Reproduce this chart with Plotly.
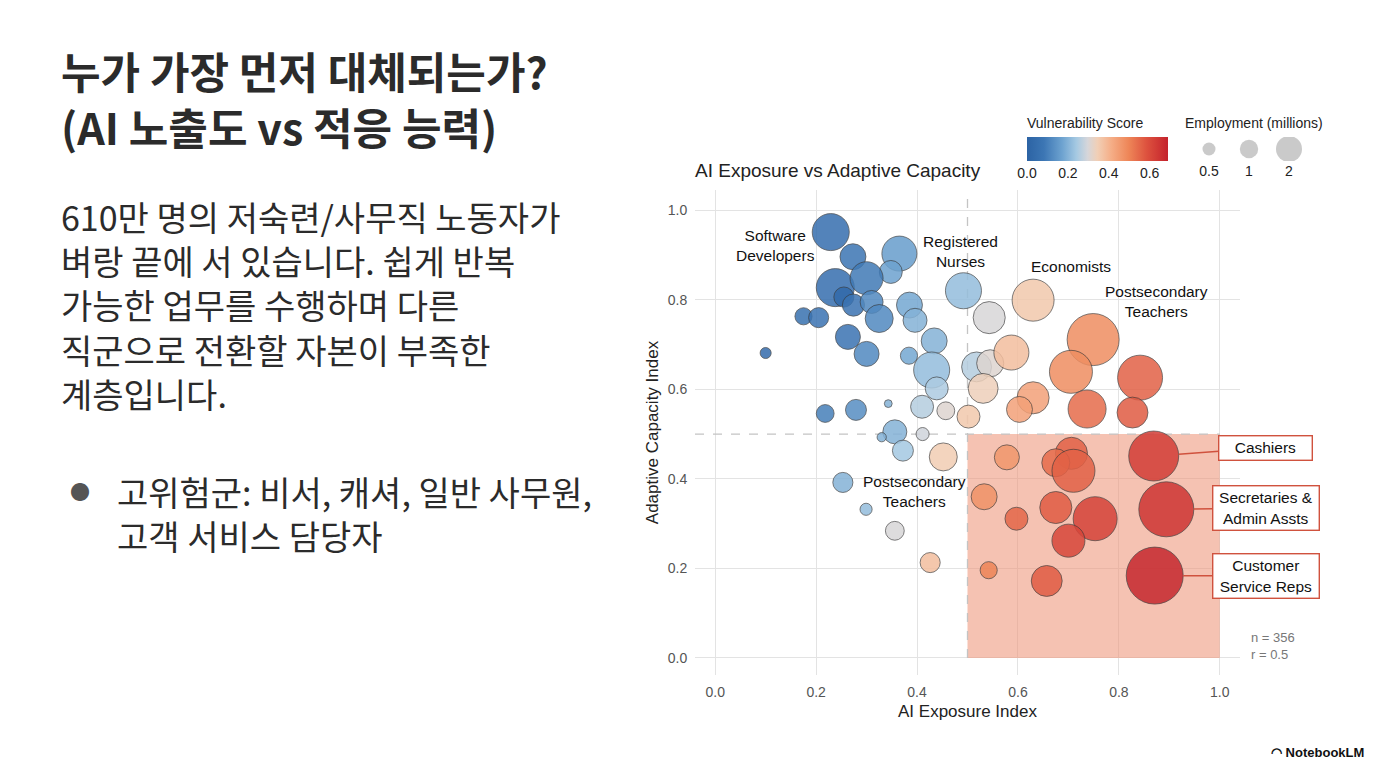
import plotly.graph_objects as go

# ---------------- data ----------------
exposure = [0.229, 0.273, 0.365, 0.348, 0.238, 0.300, 0.255, 0.274, 0.310, 0.325,
            0.175, 0.205, 0.263, 0.300, 0.100, 0.385, 0.396, 0.492, 0.543, 0.434,
            0.384, 0.429, 0.439, 0.518, 0.545, 0.531, 0.218, 0.279, 0.343, 0.410,
            0.457, 0.502, 0.356, 0.330, 0.411, 0.372, 0.452, 0.253, 0.299, 0.356,
            0.426, 0.630, 0.749, 0.587, 0.705, 0.842, 0.630, 0.603, 0.737, 0.827,
            0.578, 0.706, 0.675, 0.710, 0.869, 0.533, 0.597, 0.675, 0.753, 0.894,
            0.700, 0.542, 0.657, 0.871]
capacity = [0.951, 0.896, 0.903, 0.862, 0.827, 0.848, 0.806, 0.788, 0.795, 0.758,
            0.763, 0.760, 0.717, 0.679, 0.681, 0.788, 0.754, 0.820, 0.760, 0.708,
            0.675, 0.643, 0.602, 0.650, 0.658, 0.602, 0.546, 0.554, 0.568, 0.561,
            0.552, 0.539, 0.505, 0.493, 0.500, 0.463, 0.449, 0.392, 0.332, 0.284,
            0.213, 0.799, 0.711, 0.682, 0.639, 0.626, 0.581, 0.555, 0.556, 0.548,
            0.448, 0.457, 0.436, 0.418, 0.451, 0.360, 0.311, 0.336, 0.311, 0.332,
            0.262, 0.196, 0.172, 0.184]
employment = [1.12, 0.55, 1.00, 0.43, 1.18, 0.89, 0.33, 0.40, 0.43, 0.64,
              0.24, 0.33, 0.51, 0.51, 0.10, 0.55, 0.47, 1.06, 0.84, 0.55,
              0.24, 1.06, 0.43, 0.73, 0.60, 0.73, 0.26, 0.36, 0.05, 0.43,
              0.26, 0.43, 0.47, 0.07, 0.14, 0.36, 0.64, 0.33, 0.12, 0.29,
              0.33, 1.44, 2.21, 1.00, 1.51, 1.65, 0.84, 0.55, 1.18, 0.78,
              0.51, 0.84, 0.64, 1.51, 2.04, 0.55, 0.43, 0.84, 1.58, 2.47,
              0.89, 0.24, 0.78, 2.65]
vulnerability = [0.05, 0.08, 0.16, 0.17, 0.05, 0.09, 0.03, 0.07, 0.12, 0.12,
                 0.06, 0.07, 0.07, 0.12, 0.04, 0.18, 0.20, 0.22, 0.30, 0.20,
                 0.18, 0.22, 0.25, 0.26, 0.31, 0.34, 0.10, 0.13, 0.20, 0.26,
                 0.31, 0.36, 0.20, 0.20, 0.29, 0.24, 0.35, 0.20, 0.22, 0.30,
                 0.38, 0.36, 0.48, 0.38, 0.48, 0.56, 0.44, 0.44, 0.54, 0.57,
                 0.46, 0.56, 0.54, 0.56, 0.63, 0.47, 0.55, 0.57, 0.62, 0.65,
                 0.61, 0.50, 0.57, 0.68]

plain_labels = ["Software<br>Developers", "Registered<br>Nurses", "Economists",
                "Postsecondary<br>Teachers", "Postsecondary<br>Teachers"]
plain_label_x = [0.119, 0.487, 0.705, 0.875, 0.394]
plain_label_y = [0.920, 0.908, 0.875, 0.795, 0.371]

callout_labels = ["Cashiers", "Secretaries &<br>Admin Assts", "Customer<br>Service Reps"]
callout_index = [54, 59, 63]
callout_box_y = [0.469, 0.335, 0.183]
callout_box_w = [86, 99, 99]

legend_sizes = [0.5, 1, 2]
legend_size_labels = ["0.5", "1", "2"]

n_obs = 356
r_value = 0.5

x_ticks = [0.0, 0.2, 0.4, 0.6, 0.8, 1.0]
y_ticks = [0.0, 0.2, 0.4, 0.6, 0.8, 1.0]
colorbar_ticks = [0.0, 0.2, 0.4, 0.6]

title_lines = ["누가 가장 먼저 대체되는가?", "(AI 노출도 vs 적응 능력)"]
body_lines = ["610만 명의 저숙련/사무직 노동자가", "벼랑 끝에 서 있습니다. 쉽게 반복",
              "가능한 업무를 수행하며 다른", "직군으로 전환할 자본이 부족한", "계층입니다."]
bullet_lines = ["고위험군: 비서, 캐셔, 일반 사무원,", "고객 서비스 담당자"]

# ---------------- styling ----------------
PAGE_MARGIN = 8          # default body margin of the html page
W, H = 1376 - 2 * PAGE_MARGIN, 768 - 2 * PAGE_MARGIN
FONT = "Liberation Sans, Arial, sans-serif"
KFONT = "Noto Sans CJK KR, sans-serif"

colorscale = [
    [0.00, "#2c63a4"], [0.12, "#3c76b4"], [0.25, "#6ea3d0"], [0.35, "#a5c9e2"],
    [0.43, "#d6d6da"], [0.50, "#f1cfb6"], [0.60, "#f5ad86"], [0.72, "#ee8658"],
    [0.85, "#dd513e"], [1.00, "#c4222c"],
]
CMAX = 0.69
BUBBLE_K = 35.0   # px diameter per sqrt(million)
LEGEND_K = 18.4


def px_x(p):
    return (p - PAGE_MARGIN) / W


def px_y(p):
    return 1 - (p - PAGE_MARGIN) / H


fig = go.Figure()

fig.add_trace(go.Scatter(
    x=exposure, y=capacity, mode="markers",
    marker=dict(
        size=employment, sizemode="area", sizeref=2 / BUBBLE_K ** 2,
        color=vulnerability, colorscale=colorscale, cmin=0, cmax=CMAX,
        opacity=0.85, line=dict(width=1, color="rgba(55,55,55,0.75)"),
        colorbar=dict(
            orientation="h", x=px_x(1097.5), xanchor="center",
            y=px_y(177), yanchor="bottom", len=141, lenmode="pixels",
            thickness=24, outlinewidth=0, ticks="",
            tickvals=colorbar_ticks, ticktext=[f"{v:.1f}" for v in colorbar_ticks],
            tickfont=dict(family=FONT, size=14, color="#222"),
            xpad=0, ypad=0,
        ),
    ),
    hoverinfo="skip", showlegend=False, xaxis="x", yaxis="y",
))

# size legend
fig.add_trace(go.Scatter(
    x=legend_size_labels, y=[0] * len(legend_sizes), mode="markers",
    marker=dict(size=legend_sizes, sizemode="area", sizeref=2 / LEGEND_K ** 2,
                color="#b3b3b3", line=dict(width=0)),
    hoverinfo="skip", showlegend=False, xaxis="x2", yaxis="y2",
))

shapes = [
    dict(type="rect", xref="x", yref="y", x0=0.5, x1=1.0, y0=0, y1=0.5,
         fillcolor="rgba(238,150,122,0.58)", line=dict(width=0), layer="between"),
    dict(type="line", xref="x", yref="y", x0=0.5, x1=0.5, y0=0, y1=1.045,
         line=dict(color="#c4c4c4", width=1.3, dash="dash"), layer="between"),
    dict(type="line", xref="x", yref="y", x0=-0.04, x1=1.0, y0=0.5, y1=0.5,
         line=dict(color="#c4c4c4", width=1.3, dash="dash"), layer="between"),
]

annotations = []
for t, lx, ly in zip(plain_labels, plain_label_x, plain_label_y):
    annotations.append(dict(x=lx, y=ly, xref="x", yref="y", text=t, showarrow=False,
                            font=dict(family=FONT, size=15.5, color="#111"),
                            align="center"))

for t, idx, by, bw in zip(callout_labels, callout_index, callout_box_y, callout_box_w):
    rad = BUBBLE_K * employment[idx] ** 0.5 / 2
    annotations.append(dict(
        x=exposure[idx], y=capacity[idx], xref="x", yref="y",
        ax=1.091, ay=by, axref="x", ayref="y", text=t, showarrow=True,
        arrowhead=0, arrowwidth=1.4, arrowcolor="#d0523e", standoff=rad,
        font=dict(family=FONT, size=15.5, color="#111"), align="center", width=bw,
        bgcolor="white", bordercolor="#d0523e", borderwidth=1.4, borderpad=3,
    ))

annotations.append(dict(x=px_x(1249), y=px_y(646), xref="paper", yref="paper",
                        xanchor="left", yanchor="middle",
                        text=f"n = {n_obs}<br>r = {r_value}", showarrow=False,
                        align="left", font=dict(family=FONT, size=13, color="#777")))

annotations.append(dict(x=px_x(693), y=px_y(170), xref="paper", yref="paper",
                        xanchor="left", yanchor="middle", showarrow=False,
                        text="AI Exposure vs Adaptive Capacity",
                        font=dict(family=FONT, size=19, color="#222")))
annotations.append(dict(x=px_x(1025), y=px_y(123), xref="paper", yref="paper",
                        xanchor="left", yanchor="middle", showarrow=False,
                        text="Vulnerability Score",
                        font=dict(family=FONT, size=14, color="#222")))
annotations.append(dict(x=px_x(1254), y=px_y(123), xref="paper", yref="paper",
                        xanchor="center", yanchor="middle", showarrow=False,
                        text="Employment (millions)",
                        font=dict(family=FONT, size=14, color="#222")))

# left text panel
annotations.append(dict(x=px_x(59), y=px_y(98), xref="paper", yref="paper",
                        xanchor="left", yanchor="middle", showarrow=False, align="left",
                        text="<br>".join(title_lines),
                        font=dict(family=KFONT, size=43, color="#2b2b2b", weight=700)))
annotations.append(dict(x=px_x(59), y=px_y(305), xref="paper", yref="paper",
                        xanchor="left", yanchor="middle", showarrow=False, align="left",
                        text="<br>".join(body_lines),
                        font=dict(family=KFONT, size=34, color="#2b2b2b")))
annotations.append(dict(x=px_x(80), y=px_y(492), xref="paper", yref="paper",
                        xanchor="center", yanchor="middle", showarrow=False, text="●",
                        font=dict(family=KFONT, size=20, color="#555")))
annotations.append(dict(x=px_x(115), y=px_y(513), xref="paper", yref="paper",
                        xanchor="left", yanchor="middle", showarrow=False, align="left",
                        text="<br>".join(bullet_lines),
                        font=dict(family=KFONT, size=34, color="#2b2b2b")))

annotations.append(dict(x=px_x(1366), y=px_y(752), xref="paper", yref="paper",
                        xanchor="right", yanchor="middle", showarrow=False,
                        text="<b>◠ NotebookLM</b>",
                        font=dict(family=FONT, size=13, color="#111")))

axis_common = dict(showgrid=True, gridcolor="#e3e3e3", gridwidth=1, zeroline=False,
                   showline=False, ticks="outside", ticklen=4, tickcolor="rgba(0,0,0,0)",
                   tickfont=dict(family=FONT, size=14, color="#555"), tickformat=".1f")

fig.update_layout(
    width=W, height=H, margin=dict(l=0, r=0, t=0, b=0),
    paper_bgcolor="white", plot_bgcolor="white",
    xaxis=dict(domain=[px_x(695), px_x(1240)], range=[-0.04, 1.04], tickvals=x_ticks,
               title=dict(text="AI Exposure Index", standoff=6,
                          font=dict(family=FONT, size=17, color="#222")),
               anchor="y", **axis_common),
    yaxis=dict(domain=[px_y(675), px_y(190)], range=[-0.038, 1.045], tickvals=y_ticks,
               title=dict(text="Adaptive Capacity Index", standoff=4,
                          font=dict(family=FONT, size=17, color="#222")),
               anchor="x", **axis_common),
    xaxis2=dict(domain=[px_x(1189), px_x(1309)], anchor="y2", type="category",
                range=[-0.5, 2.5], showgrid=False, zeroline=False, showline=False,
                ticks="", tickfont=dict(family=FONT, size=14, color="#222")),
    yaxis2=dict(domain=[px_y(161), px_y(137)], anchor="x2", range=[-1, 1],
                visible=False),
    shapes=shapes, annotations=annotations, showlegend=False,
)

fig.write_html("out.html")
